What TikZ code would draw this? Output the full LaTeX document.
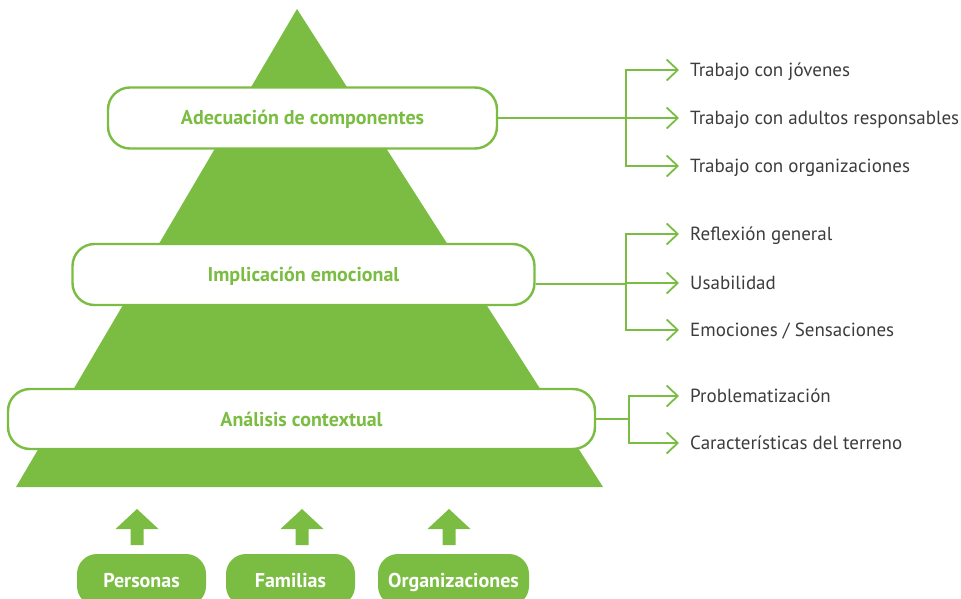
\documentclass[tikz,border=0pt]{standalone}
\usepackage{fontspec}
\setmainfont{PT Sans}
\usetikzlibrary{arrows.meta}
\definecolor{leaf}{RGB}{122,189,66}
\definecolor{ink}{RGB}{60,60,60}
\tikzset{
  level/.style={draw=leaf, line width=2.4pt, fill=white, rounded corners=22pt,
    font=\fontsize{20}{24}\selectfont\bfseries, text=leaf, text height=14pt, text depth=0pt},
  item/.style={anchor=west, inner sep=0pt, text height=13pt, text depth=0pt,
    font=\fontsize{19}{22}\selectfont, text=ink},
  link/.style={draw=leaf, line width=1.8pt},
  branch/.style={link, -{Straight Barb[length=11pt,width=21pt,line width=1.8pt]}, shorten >=11pt},
  source/.style={fill=leaf, rounded corners=20pt, minimum height=52pt,
    font=\fontsize{20}{24}\selectfont\bfseries, text=white, text height=14pt, text depth=0pt}
}
\begin{document}
\begin{tikzpicture}[x=1pt, y=-1pt]
\useasboundingbox (0,0) rectangle (961,599);
\clip (0,0) rectangle (961,599);

% the pyramid
\fill[leaf] (16,487) -- (297,9) -- (603,487) -- cycle;

% the three levels
\node[level, minimum width=389pt, minimum height=61pt] (adec) at (302.5,118) {Adecuación de componentes};
\node[level, minimum width=462pt, minimum height=61pt] (impl) at (303.5,274.5) {Implicación emocional};
\node[level, minimum width=587pt, minimum height=60pt] (anal) at (301.5,419) {Análisis contextual};

% items on the right
\node[item] (jov) at (690,70) {Trabajo con jóvenes};
\node[item] (adul) at (690,118) {Trabajo con adultos responsables};
\node[item] (orgs) at (690,166) {Trabajo con organizaciones};
\node[item] (refl) at (690,234) {Reflexión general};
\node[item] (usab) at (690,283) {Usabilidad};
\node[item] (emoc) at (690,330) {Emociones / Sensaciones};
\node[item] (prob) at (690,396) {Problematización};
\node[item] (cara) at (690,443) {Características del terreno};

% connectors
\coordinate (b1) at (626,118);
\coordinate (b2) at (626,284);
\coordinate (b3) at (629,419);
\draw[link] (adec.east) -- (b1);
\draw[link] (impl.east |- b2) -- (b2);
\draw[link] (anal.east) -- (b3);
\foreach \t in {jov,adul,orgs} \draw[branch] (b1) |- (\t.west);
\foreach \t in {refl,usab,emoc} \draw[branch] (b2) |- (\t.west);
\foreach \t in {prob,cara} \draw[branch] (b3) |- (\t.west);

% sources at the bottom
\node[source, minimum width=129pt] (pers) at (141.5,580) {Personas};
\node[source, minimum width=129pt] (fam) at (290.5,580) {Familias};
\node[source, minimum width=151pt] (org) at (453.5,580) {Organizaciones};
\foreach \x in {137,302,449}
  \fill[leaf] (\x,509) -- (\x+21.5,529) -- (\x+6.5,529) -- (\x+6.5,545)
    -- (\x-6.5,545) -- (\x-6.5,529) -- (\x-21.5,529) -- cycle;
\end{tikzpicture}
\end{document}
